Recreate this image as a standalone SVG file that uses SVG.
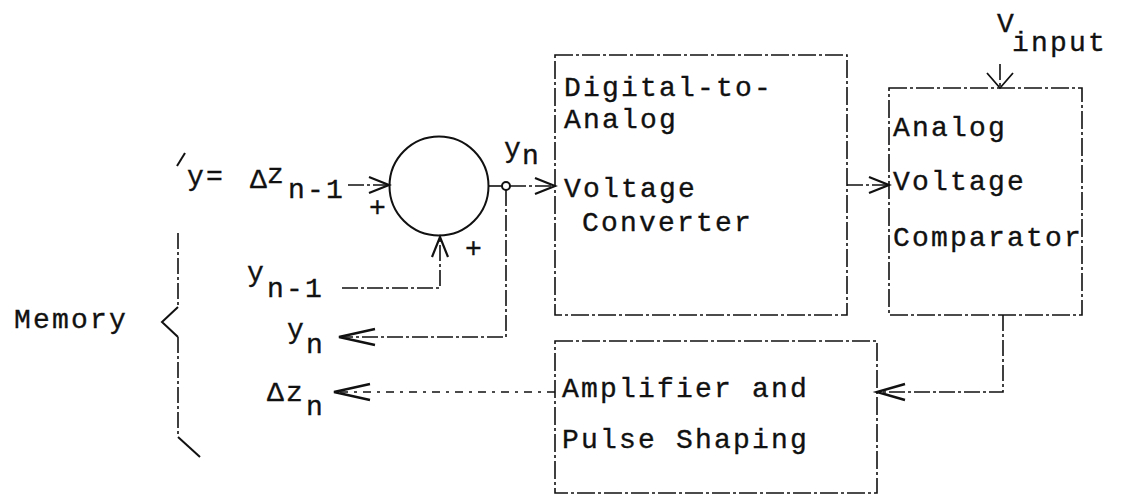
<svg xmlns="http://www.w3.org/2000/svg" width="1123" height="497" viewBox="0 0 1123 497">
<style>
  .t { font-family: "Liberation Mono", "Courier New", monospace; font-size: 28px; letter-spacing: 2.2px; fill: #111; stroke: #111; stroke-width: 0.35px; }
  .box { fill: none; stroke: #111; stroke-width: 1.6; stroke-dasharray: 18 3 3 3; }
  .conn { fill: none; stroke: #111; stroke-width: 1.6; stroke-dasharray: 16 3 3 3; }
  .sparse { stroke-dasharray: 8 6 3 6; }
  .solid { fill: none; stroke: #111; stroke-width: 2; }
</style>
<defs>
  <marker id="arr" markerUnits="userSpaceOnUse" markerWidth="22" markerHeight="18" refX="20" refY="8" orient="auto" overflow="visible">
    <path d="M0,0 L20,8 L0,16" fill="none" stroke="#111" stroke-width="2.2"/>
  </marker>
  <marker id="arrL" markerUnits="userSpaceOnUse" markerWidth="38" markerHeight="18" refX="36" refY="8" orient="auto" overflow="visible">
    <path d="M0,0 L36,8 L0,16" fill="none" stroke="#111" stroke-width="2.4"/>
  </marker>
  <marker id="arrM" markerUnits="userSpaceOnUse" markerWidth="30" markerHeight="18" refX="28" refY="8" orient="auto" overflow="visible">
    <path d="M0,0 L28,8 L0,16" fill="none" stroke="#111" stroke-width="2.4"/>
  </marker>
  <marker id="arrS" markerUnits="userSpaceOnUse" markerWidth="16" markerHeight="28" refX="15" refY="13" orient="auto" overflow="visible">
    <path d="M0,0 L15,13 L0,26" fill="none" stroke="#111" stroke-width="1.8"/>
  </marker>
</defs>
<rect width="1123" height="497" fill="#fff"/>

<g id="connectors">
  <line class="conn" x1="348" y1="185" x2="389" y2="185" marker-end="url(#arr)"/>
  <path class="conn" d="M342,288 H440 V237" marker-end="url(#arr)"/>
  <line class="conn" x1="489" y1="186" x2="502" y2="186"/>
  <line class="conn" x1="510" y1="186" x2="555" y2="186" marker-end="url(#arr)"/>
  <path class="conn" d="M506,190 V337 H339" marker-end="url(#arrL)"/>
  <line class="conn" x1="847" y1="185" x2="889" y2="185" marker-end="url(#arr)"/>
  <line class="conn" x1="1000" y1="64" x2="1000" y2="88" marker-end="url(#arrS)"/>
  <path class="conn" d="M1003,315 V392 H877" marker-end="url(#arrM)"/>
  <path class="conn sparse" d="M555,392 H334" marker-end="url(#arrL)"/>
</g>

<g id="summer">
  <circle cx="439" cy="186" r="49.5" class="solid"/>
  <text class="t" x="369" y="216">+</text>
  <text class="t" x="465" y="257">+</text>
</g>

<g id="junction">
  <circle cx="506" cy="186" r="4" fill="#fff" stroke="#111" stroke-width="2"/>
</g>

<g id="dac">
  <rect class="box" x="555" y="55" width="292" height="260"/>
  <text class="t" x="564" y="96">Digital-to-</text>
  <text class="t" x="564" y="128">Analog</text>
  <text class="t" x="564" y="197">Voltage</text>
  <text class="t" x="582" y="231">Converter</text>
</g>

<g id="comparator">
  <rect class="box" x="889" y="88" width="193" height="227"/>
  <text class="t" x="893" y="136">Analog</text>
  <text class="t" x="893" y="190">Voltage</text>
  <text class="t" x="893" y="246">Comparator</text>
</g>

<g id="amplifier">
  <rect class="box" x="555" y="341" width="322" height="152"/>
  <text class="t" x="562" y="397">Amplifier and</text>
  <text class="t" x="562" y="448">Pulse Shaping</text>
</g>

<g id="memory">
  <line class="solid" x1="177" y1="166" x2="185" y2="153"/>
  <line class="conn" x1="178" y1="233" x2="178" y2="307"/>
  <path class="solid" d="M178,307 L162,322 L178,337"/>
  <line class="conn" x1="178" y1="337" x2="178" y2="437"/>
  <line class="solid" x1="178" y1="437" x2="200" y2="457"/>
  <text class="t" x="14" y="328">Memory</text>
</g>

<g id="labels">
  <text class="t" x="187" y="185">y=</text>
  <text class="t" x="250" y="188">Δ</text>
  <text class="t" x="267" y="183">z</text>
  <text class="t" x="288" y="198">n-1</text>
  <text class="t" x="504" y="157">y</text>
  <text class="t" x="522" y="164">n</text>
  <text class="t" x="247" y="281">y</text>
  <text class="t" x="267" y="297">n-1</text>
  <text class="t" x="287" y="338">y</text>
  <text class="t" x="306" y="353">n</text>
  <text class="t" x="267" y="401">Δz</text>
  <text class="t" x="306" y="415">n</text>
  <text class="t" x="997" y="32">V</text>
  <text class="t" x="1012" y="51">input</text>
</g>
</svg>
